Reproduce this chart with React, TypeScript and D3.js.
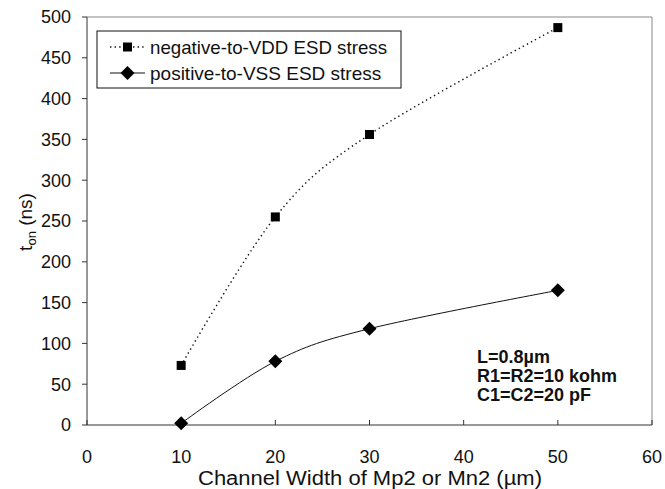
import React from "react";
import * as d3 from "d3";

const xValues = [10, 20, 30, 50];
const negativeToVDD = [73, 255, 356, 487];
const positiveToVSS = [2, 78, 118, 165];
const xTicks = [0, 10, 20, 30, 40, 50, 60];
const yTicks = [0, 50, 100, 150, 200, 250, 300, 350, 400, 450, 500];
const seriesNames = ["negative-to-VDD ESD stress", "positive-to-VSS ESD stress"];
const annotation = ["L=0.8µm", "R1=R2=10 kohm", "C1=C2=20 pF"];

export default function App() {
  const W = 665, H = 489;
  const left = 87, right = 652, top = 17, bottom = 425;
  const x = d3.scaleLinear().domain([0, 60]).range([left, right]);
  const y = d3.scaleLinear().domain([0, 500]).range([bottom, top]);
  const line = d3
    .line<[number, number]>()
    .x((d) => x(d[0]))
    .y((d) => y(d[1]))
    .curve(d3.curveCardinal.tension(0));
  const negPts = xValues.map((v, i) => [v, negativeToVDD[i]] as [number, number]);
  const posPts = xValues.map((v, i) => [v, positiveToVSS[i]] as [number, number]);
  const font = "Arial, 'Liberation Sans', sans-serif";
  const sq = 9;
  const dm = 7;
  const diamond = (cx: number, cy: number) =>
    `M${cx},${cy - dm}L${cx + dm},${cy}L${cx},${cy + dm}L${cx - dm},${cy}Z`;

  return (
    <svg width={W} height={H} style={{ position: "absolute", left: 0, top: 0, background: "#fff" }} fontFamily={font}>
      <rect x={0} y={0} width={W} height={H} fill="#fff" />
      {/* frame */}
      <line x1={left} y1={top} x2={right} y2={top} stroke="#888" strokeWidth={1} />
      <line x1={right} y1={top} x2={right} y2={bottom} stroke="#888" strokeWidth={1} />
      {/* axes */}
      <line x1={left} y1={top} x2={left} y2={bottom} stroke="#333" strokeWidth={1} />
      <line x1={left} y1={bottom} x2={right} y2={bottom} stroke="#333" strokeWidth={1} />
      {yTicks.map((t) => (
        <g key={"y" + t}>
          <line x1={left - 5} x2={left} y1={y(t)} y2={y(t)} stroke="#333" />
          <text x={71} y={y(t)} dy="0.36em" textAnchor="end" fontSize={18} fill="#111">
            {t}
          </text>
        </g>
      ))}
      {xTicks.map((t) => (
        <g key={"x" + t}>
          <line x1={x(t)} x2={x(t)} y1={bottom} y2={bottom - 5} stroke="#333" />
          <text x={x(t)} y={463} textAnchor="middle" fontSize={18} fill="#111">
            {t}
          </text>
        </g>
      ))}
      <text x={198} y={485} fontSize={20} fill="#111" textLength={344} lengthAdjust="spacingAndGlyphs">
        Channel Width of Mp2 or Mn2 (µm)
      </text>
      <text transform="translate(32,222) rotate(-90)" textAnchor="middle" fontSize={19} fill="#111">
        t<tspan fontSize={13} dy="4">on</tspan>
        <tspan dy="-4"> (ns)</tspan>
      </text>

      {/* series */}
      <path d={line(negPts) || ""} fill="none" stroke="#111" strokeWidth={1.4} strokeDasharray="1.4,3.2" />
      <path d={line(posPts) || ""} fill="none" stroke="#111" strokeWidth={1} />
      {negPts.map((p, i) => (
        <rect key={"n" + i} x={x(p[0]) - sq / 2} y={y(p[1]) - sq / 2} width={sq} height={sq} fill="#000" />
      ))}
      {posPts.map((p, i) => (
        <path key={"p" + i} d={diamond(x(p[0]), y(p[1]))} fill="#000" />
      ))}

      {/* legend */}
      <rect x={97} y={31} width={304} height={57} fill="#fff" stroke="#111" strokeWidth={1} />
      <line x1={110} x2={145} y1={47} y2={47} stroke="#111" strokeWidth={1.4} strokeDasharray="1.4,3.2" />
      <rect x={127.5 - sq / 2} y={47 - sq / 2} width={sq} height={sq} fill="#000" />
      <text x={150} y={47} dy="0.36em" fontSize={19} fill="#111" textLength={237} lengthAdjust="spacingAndGlyphs">
        {seriesNames[0]}
      </text>
      <line x1={110} x2={145} y1={73} y2={73} stroke="#111" strokeWidth={1} />
      <path d={diamond(127.5, 73)} fill="#000" />
      <text x={150} y={73} dy="0.36em" fontSize={19} fill="#111">
        {seriesNames[1]}
      </text>

      {/* annotation */}
      {annotation.map((s, i) => (
        <text key={s} x={477} y={357 + i * 19} dy="0.36em" fontSize={18} fontWeight="bold" fill="#111">
          {s}
        </text>
      ))}
    </svg>
  );
}
